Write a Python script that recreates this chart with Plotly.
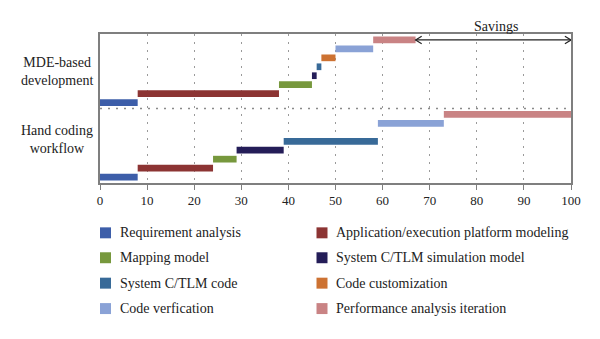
import plotly.graph_objects as go

# Development phases and their colours
phases = [
    "Requirement analysis",
    "Application/execution platform modeling",
    "Mapping model",
    "System C/TLM simulation model",
    "System C/TLM code",
    "Code customization",
    "Code verfication",
    "Performance analysis iteration",
]
colors = ["#3d5ea9", "#8c3433", "#77983d", "#241d58", "#386a98",
          "#cd7232", "#8aa2d6", "#c98384"]

# Workflows (bottom to top)
workflows = ["Hand coding\nworkflow", "MDE-based\ndevelopment"]

# Start / duration of each phase (percent of total effort)
hand_start = [0, 8, 24, 29, 39, 59, 59, 73]
hand_dur = [8, 16, 5, 10, 20, 0, 14, 27]
mde_start = [0, 8, 38, 45, 46, 47, 50, 58]
mde_dur = [8, 30, 7, 1, 1, 3, 8, 9]

x_ticks = [0, 10, 20, 30, 40, 50, 60, 70, 80, 90, 100]

FONT = "Liberation Serif"
W, H = 600, 339
L, R, T, B = 100, 29, 34, 155.5
PW, PH = W - L - R, H - T - B


def px_to_paper(px, py):
    return (px - L) / PW, (H - B - py) / PH


ROW_STEP = 0.12
BAR_W = 0.09


def row_pos(group, k):
    return group + 0.5 + (k - 3.5) * ROW_STEP


fig = go.Figure()
for k, name in enumerate(phases):
    fig.add_trace(go.Bar(
        orientation="h",
        y=[row_pos(0, k), row_pos(1, k)],
        x=[hand_dur[k], mde_dur[k]],
        base=[hand_start[k], mde_start[k]],
        width=BAR_W,
        marker=dict(color=colors[k], line=dict(width=0)),
        name=name,
        showlegend=False,
    ))

shapes = []
annotations = []

# dotted separator between the two workflows
shapes.append(dict(type="line", xref="paper", yref="y", x0=0, x1=1, y0=1, y1=1,
                   line=dict(color="#8a8a8a", width=1.5, dash="2px,6px"), layer="below"))

# Savings arrow between the two finish times
sav_a = mde_start[-1] + mde_dur[-1]
sav_b = hand_start[-1] + hand_dur[-1]
ya = row_pos(1, 7)
cdx, cdy = 1.3, 0.05
shapes.append(dict(type="line", xref="x", yref="y", x0=sav_a, x1=sav_b, y0=ya, y1=ya,
                   line=dict(color="#222222", width=1.2)))
shapes.append(dict(type="path", xref="x", yref="y",
                   path=f"M{sav_a + cdx},{ya + cdy} L{sav_a},{ya} L{sav_a + cdx},{ya - cdy}",
                   line=dict(color="#222222", width=1.2)))
shapes.append(dict(type="path", xref="x", yref="y",
                   path=f"M{sav_b - cdx},{ya + cdy} L{sav_b},{ya} L{sav_b - cdx},{ya - cdy}",
                   line=dict(color="#222222", width=1.2)))
annotations.append(dict(x=(sav_a + sav_b) / 2 + 0.5, y=ya, xref="x", yref="y",
                        text="Savings", showarrow=False, yanchor="bottom", yshift=4,
                        font=dict(family=FONT, size=14, color="#222222")))

# workflow labels
label_y = [0.58, 1.5]
for wf, yv in zip(workflows, label_y):
    xp, _ = px_to_paper(57, 0)
    annotations.append(dict(x=xp, y=yv, xref="paper", yref="y",
                            text=wf.replace("\n", "<br>"), showarrow=False,
                            xanchor="center", yanchor="middle", align="center",
                            font=dict(family=FONT, size=14, color="#222222")))

# legend: two columns, four rows
col_x = [100, 316.5]
row_y = [233.5, 258.5, 284, 309.5]
for k, name in enumerate(phases):
    cx = col_x[k % 2]
    cy = row_y[k // 2]
    x0, y0 = px_to_paper(cx, cy + 5.5)
    x1, y1 = px_to_paper(cx + 11, cy - 5.5)
    shapes.append(dict(type="rect", xref="paper", yref="paper", x0=x0, x1=x1, y0=y0, y1=y1,
                       fillcolor=colors[k], line=dict(width=0)))
    tx, ty = px_to_paper(cx + 17.5, cy)
    annotations.append(dict(x=tx, y=ty, xref="paper", yref="paper", text=name,
                            showarrow=False, xanchor="left", yanchor="middle",
                            font=dict(family=FONT, size=14, color="#222222")))

fig.update_layout(
    width=W, height=H,
    margin=dict(l=L, r=R, t=T, b=B, pad=0),
    paper_bgcolor="white", plot_bgcolor="white",
    barmode="overlay",
    shapes=shapes, annotations=annotations,
    showlegend=False,
)
fig.update_xaxes(
    range=[0, 100], tickvals=x_ticks, ticktext=[str(v) for v in x_ticks],
    ticks="outside", ticklen=5, tickcolor="#7f7f7f", tickwidth=1,
    showline=True, linecolor="#7f7f7f", linewidth=1.5, mirror=True,
    showgrid=True, gridcolor="#9a9a9a", gridwidth=1, griddash="2px,6px",
    zeroline=False,
    tickfont=dict(family=FONT, size=13, color="#222222"),
)
fig.update_yaxes(
    range=[0, 2], showticklabels=False, ticks="",
    showline=True, linecolor="#7f7f7f", linewidth=1.5, mirror=True,
    showgrid=False, zeroline=False,
)

fig.write_html("out.html")
